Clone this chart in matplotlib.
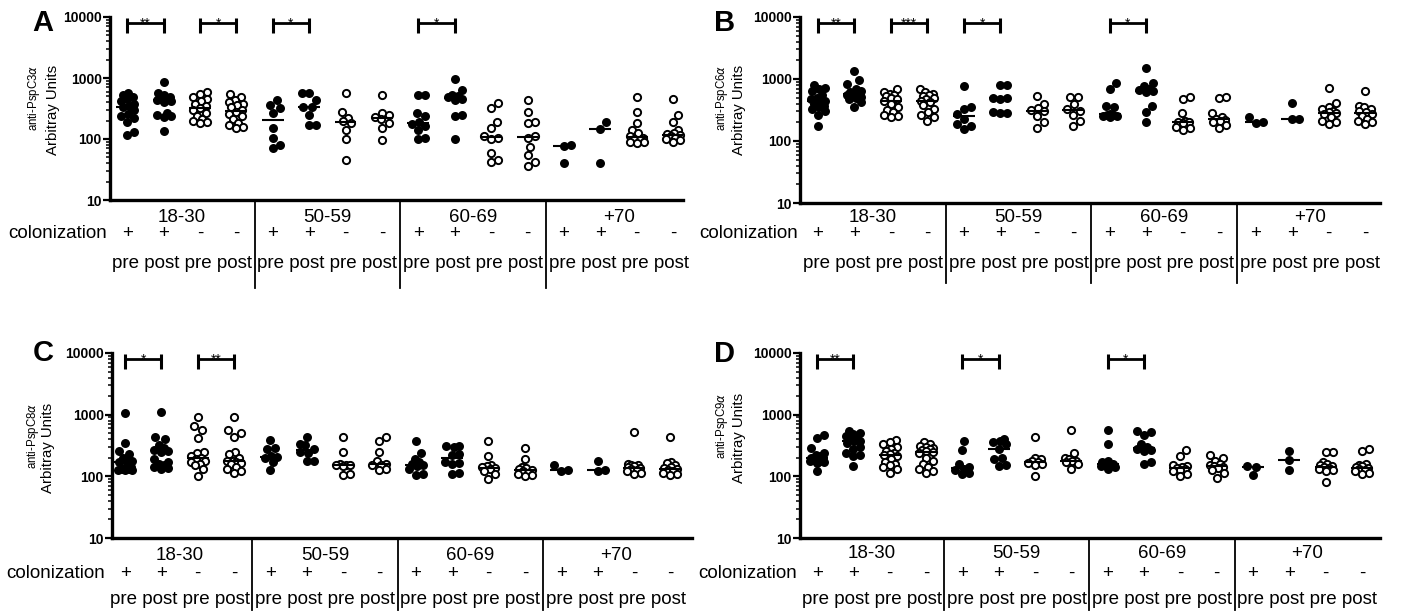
# Anticuerpos anti-PspC por grupo de edad y colonización (4 paneles)
import numpy as np
import matplotlib.pyplot as plt
import matplotlib.ticker as mticker
import matplotlib.transforms as mtransforms

plt.rcParams['font.family'] = ['Liberation Sans', 'DejaVu Sans']
plt.rcParams['mathtext.fontset'] = 'dejavusans'

# ----------------------------------------------------------
# DATOS (16 grupos por panel: edad x colonización x pre/post)
# ----------------------------------------------------------
edades = ["18-30", "50-59", "60-69", "+70"]
colonizacion = ["+", "+", "-", "-"] * 4
momentos = "pre post pre post"
relleno = [True, True, False, False] * 4

pspc3 = [
    [560, 520, 480, 450, 420, 380, 350, 330, 300, 260, 240, 220, 190, 130, 118],
    [870, 560, 520, 480, 460, 450, 440, 420, 400, 270, 250, 240, 230, 135],
    [600, 540, 480, 450, 420, 380, 350, 320, 300, 270, 240, 210, 200, 190, 180],
    [540, 480, 440, 410, 380, 360, 330, 300, 280, 260, 240, 210, 180, 170, 160, 150],
    [440, 360, 320, 265, 150, 103, 80, 72],
    [560, 560, 440, 340, 340, 250, 170, 170],
    [560, 280, 220, 195, 180, 140, 100, 45],
    [530, 270, 250, 230, 210, 180, 150, 98],
    [530, 520, 270, 240, 190, 175, 165, 140, 105, 100],
    [960, 640, 520, 500, 480, 460, 440, 250, 240, 100],
    [390, 320, 190, 150, 110, 105, 100, 60, 45, 42],
    [440, 280, 190, 180, 110, 105, 75, 55, 42, 36],
    [80, 77, 40],
    [190, 148, 41],
    [480, 280, 180, 140, 125, 110, 105, 100, 95, 90, 88, 85],
    [450, 250, 190, 140, 125, 120, 115, 110, 105, 100, 95, 90],
]
pspc6 = [
    [810, 720, 700, 650, 560, 500, 480, 450, 420, 400, 370, 350, 330, 300, 260, 175],
    [1350, 950, 820, 700, 650, 620, 600, 580, 560, 540, 520, 500, 470, 420, 360],
    [680, 620, 580, 560, 530, 500, 480, 450, 400, 360, 320, 290, 260, 250, 240],
    [680, 620, 580, 560, 540, 500, 470, 450, 420, 380, 330, 290, 260, 240, 210],
    [760, 360, 330, 270, 230, 190, 175, 155],
    [800, 790, 500, 490, 480, 290, 285, 280],
    [540, 390, 340, 320, 300, 250, 200, 165],
    [520, 510, 390, 330, 310, 260, 210, 175],
    [860, 680, 370, 360, 275, 265, 260, 255, 250, 245],
    [1500, 860, 760, 700, 660, 640, 620, 370, 290, 200],
    [520, 470, 280, 210, 205, 200, 195, 170, 160, 150],
    [510, 490, 280, 240, 230, 220, 210, 200, 180, 160],
    [240, 200, 195],
    [410, 230, 225],
    [720, 410, 360, 330, 300, 290, 280, 270, 240, 210, 200, 190],
    [630, 370, 350, 330, 310, 290, 270, 250, 230, 210, 200, 190],
]
pspc8 = [
    [1080, 350, 260, 230, 200, 180, 175, 170, 140, 135, 130, 130, 128, 128, 125],
    [1100, 430, 400, 320, 290, 270, 260, 250, 190, 170, 160, 150, 140, 135, 130],
    [900, 650, 560, 420, 250, 240, 210, 200, 190, 180, 170, 160, 150, 130, 100],
    [900, 560, 500, 440, 250, 230, 200, 180, 175, 170, 165, 160, 140, 130, 120, 115],
    [390, 290, 280, 210, 205, 200, 170, 125],
    [440, 330, 320, 280, 250, 240, 180, 175],
    [430, 250, 160, 155, 150, 150, 145, 110, 105],
    [430, 370, 250, 175, 160, 155, 150, 130, 125],
    [370, 240, 190, 170, 160, 150, 145, 130, 110, 105],
    [310, 305, 300, 230, 220, 170, 165, 160, 115, 110],
    [370, 210, 150, 145, 140, 135, 130, 120, 110, 90],
    [290, 190, 140, 135, 130, 125, 120, 115, 110, 105, 100],
    [150, 125, 124],
    [175, 125, 123],
    [520, 160, 155, 150, 145, 140, 135, 130, 125, 120, 115, 110],
    [430, 170, 165, 150, 140, 135, 130, 125, 120, 115, 110, 105],
]
pspc9 = [
    [470, 420, 290, 240, 220, 210, 200, 195, 190, 185, 180, 175, 170, 165, 120],
    [540, 510, 480, 450, 420, 400, 380, 370, 350, 300, 280, 240, 220, 210, 145],
    [390, 360, 330, 300, 280, 260, 240, 230, 220, 210, 190, 170, 160, 150, 140, 130, 115],
    [360, 330, 310, 300, 290, 280, 270, 260, 250, 240, 200, 180, 160, 140, 130, 120, 115],
    [370, 270, 160, 140, 130, 125, 115, 110],
    [410, 380, 360, 340, 280, 200, 190, 150, 145],
    [440, 200, 190, 175, 170, 165, 160, 155, 100],
    [570, 240, 200, 190, 180, 175, 170, 160, 130],
    [560, 340, 180, 170, 160, 155, 150, 145, 140, 130],
    [540, 520, 470, 330, 300, 280, 270, 260, 170, 160],
    [270, 210, 150, 145, 140, 135, 130, 125, 120, 110, 100],
    [225, 200, 180, 160, 150, 145, 140, 135, 125, 115, 95],
    [145, 143, 106],
    [260, 182, 128],
    [250, 245, 170, 160, 150, 145, 140, 135, 130, 125, 120, 80],
    [275, 255, 160, 150, 145, 140, 135, 130, 125, 120, 115, 110],
]

# comparaciones significativas (grupo inicial, grupo final, etiqueta)
sig_pspc3 = [(1, 2, "**"), (3, 4, "*"), (5, 6, "*"), (9, 10, "*")]
sig_pspc6 = [(1, 2, "**"), (3, 4, "***"), (5, 6, "*"), (9, 10, "*")]
sig_pspc8 = [(1, 2, "*"), (3, 4, "**")]
sig_pspc9 = [(1, 2, "**"), (5, 6, "*"), (9, 10, "*")]

# ----------------------------------------------------------
# DISPOSICIÓN (en píxeles de la figura, origen arriba-izquierda)
# ----------------------------------------------------------
ANCHO, ALTO = 1405, 613
paneles = [
    dict(letra="A", datos=pspc3, nombre="PspC3", sig=sig_pspc3, caja=(110, 17, 683, 200),
         xlim=(0.53, 16.27), filas=(17, 33, 63), divisor=88, pos_letra=(43, 23),
         ylab=((34, 65), (53, 65))),
    dict(letra="B", datos=pspc6, nombre="PspC6", sig=sig_pspc6, caja=(800, 17, 1380, 203),
         xlim=(0.51, 16.41), filas=(14, 30, 60), divisor=80, pos_letra=(725, 23),
         ylab=((722, 65), (739, 65))),
    dict(letra="C", datos=pspc8, nombre="PspC8", sig=sig_pspc8, caja=(112, 353, 692, 538),
         xlim=(0.64, 16.6), filas=(17, 35, 62), divisor=72, pos_letra=(43, 353),
         ylab=((33, 403), (48, 403))),
    dict(letra="D", datos=pspc9, nombre="PspC9", sig=sig_pspc9, caja=(800, 353, 1380, 538),
         xlim=(0.53, 16.5), filas=(15, 35, 61), divisor=72, pos_letra=(725, 354),
         ylab=((722, 393), (739, 393))),
]

DIAM = 8.5     # separación deseada entre centros (px)
ANCHO_MAX = 7  # desplazamiento horizontal máximo (px)


def enjambre(valores, px_decada, px_unidad):
    """Desplazamientos horizontales tipo 'beeswarm' acotados (como GraphPad)."""
    ys = np.log10(np.asarray(valores, float)) * px_decada
    xs = np.zeros(len(ys))
    pasos = np.arange(0.5, ANCHO_MAX + 0.01, 0.5)
    candidatos = np.concatenate([[0.0], np.ravel(np.column_stack([pasos, -pasos]))])
    colocados = []
    for i in np.argsort(ys):
        if not colocados:
            colocados.append(i)
            continue
        mejor, mejor_d = 0.0, -1.0
        for c in candidatos:
            d = min(np.hypot(c - xs[j], ys[i] - ys[j]) for j in colocados)
            if d >= DIAM:
                mejor = c
                break
            if d > mejor_d + 0.3:
                mejor, mejor_d = c, d
        xs[i] = mejor
        colocados.append(i)
    return xs / px_unidad


fig = plt.figure(figsize=(ANCHO / 100, ALTO / 100), dpi=100)

for p in paneles:
    x0, y0, x1, y1 = p["caja"]
    alto_px = y1 - y0
    ax = fig.add_axes([x0 / ANCHO, 1 - y1 / ALTO, (x1 - x0) / ANCHO, alto_px / ALTO])
    ax.set_yscale("log")
    ax.set_ylim(10, 10000)
    ax.set_xlim(*p["xlim"])

    px_unidad = (x1 - x0) / (p["xlim"][1] - p["xlim"][0])
    px_decada = alto_px / 3.0

    for g, valores in enumerate(p["datos"]):
        pos = g + 1
        dx = enjambre(valores, px_decada, px_unidad)
        if relleno[g]:
            ax.scatter(pos + dx, valores, s=42, c="black", linewidths=0, zorder=3, clip_on=False)
        else:
            ax.scatter(pos + dx, valores, s=27, facecolors="white", edgecolors="black",
                       linewidths=1.4, zorder=3, clip_on=False)
        ax.hlines(np.median(valores), pos - 0.3, pos + 0.3, color="black", lw=1.5, zorder=4)

    # corchetes de significancia
    for a, b, etiqueta in p["sig"]:
        ax.plot([a, b], [10 ** 3.9, 10 ** 3.9], color="black", lw=2, solid_capstyle="butt")
        for xx in (a, b):
            ax.plot([xx, xx], [10 ** 3.74, 10 ** 3.985], color="black", lw=2.2, solid_capstyle="butt")
        ax.annotate(etiqueta, xy=((a + b) / 2, 10 ** 3.9), xytext=(0, -3.5), textcoords="offset points",
                    ha="center", va="baseline", fontsize=10)

    # ejes
    for lado in ("top", "right"):
        ax.spines[lado].set_visible(False)
    ax.spines["left"].set_linewidth(2.4)
    ax.spines["bottom"].set_linewidth(2.4)
    ax.set_xticks([])
    ax.yaxis.set_major_locator(mticker.FixedLocator([10, 100, 1000, 10000]))
    ax.yaxis.set_major_formatter(mticker.FuncFormatter(lambda v, _: f"{v:.0f}"))
    ax.yaxis.set_minor_locator(mticker.LogLocator(base=10, subs=range(2, 10)))
    ax.yaxis.set_minor_formatter(mticker.NullFormatter())
    ax.tick_params(axis="y", which="major", length=5, width=1.6, labelsize=10, pad=1)
    ax.tick_params(axis="y", which="minor", length=3, width=1.1)
    for etq in ax.get_yticklabels():
        etq.set_fontweight("bold")

    # filas de texto bajo el eje
    fila_edad, fila_col, fila_mom = p["filas"]

    def trans(off):
        return mtransforms.offset_copy(ax.get_xaxis_transform(), fig=fig, y=-off, units="dots")

    for k, edad in enumerate(edades):
        centro = 4 * k + 2.5
        ax.text(centro, 0, edad, transform=trans(fila_edad), ha="center", va="center",
                fontsize=13.5, clip_on=False)
        ax.text(centro, 0, momentos, transform=trans(fila_mom), ha="center", va="center",
                fontsize=13.5, clip_on=False)
    for g, signo in enumerate(colonizacion):
        ax.text(g + 1, 0, signo, transform=trans(fila_col), ha="center", va="center",
                fontsize=13.5, clip_on=False)
    ax.text(0.45, 0, "colonization", transform=trans(fila_col), ha="right", va="center",
            fontsize=13.5, clip_on=False)
    for xd in (4.5, 8.5, 12.5):
        ax.plot([xd, xd], [0, -p["divisor"] / alto_px], transform=ax.get_xaxis_transform(),
                color="black", lw=1.3, clip_on=False)

    # etiqueta del eje Y (dos líneas de distinto tamaño)
    (lx1, ly1), (lx2, ly2) = p["ylab"]
    fig.text(lx1 / ANCHO, 1 - ly1 / ALTO, f"anti-{p['nombre']}$\\alpha$", rotation=90,
             ha="center", va="top", fontsize=8.3)
    fig.text(lx2 / ANCHO, 1 - ly2 / ALTO, "Arbitray Units", rotation=90,
             ha="center", va="top", fontsize=10.8)

    # letra del panel
    lx, ly = p["pos_letra"]
    fig.text(lx / ANCHO, 1 - ly / ALTO, p["letra"], ha="center", va="center",
             fontsize=21, fontweight="bold")

fig.savefig("out.png", dpi=100)
